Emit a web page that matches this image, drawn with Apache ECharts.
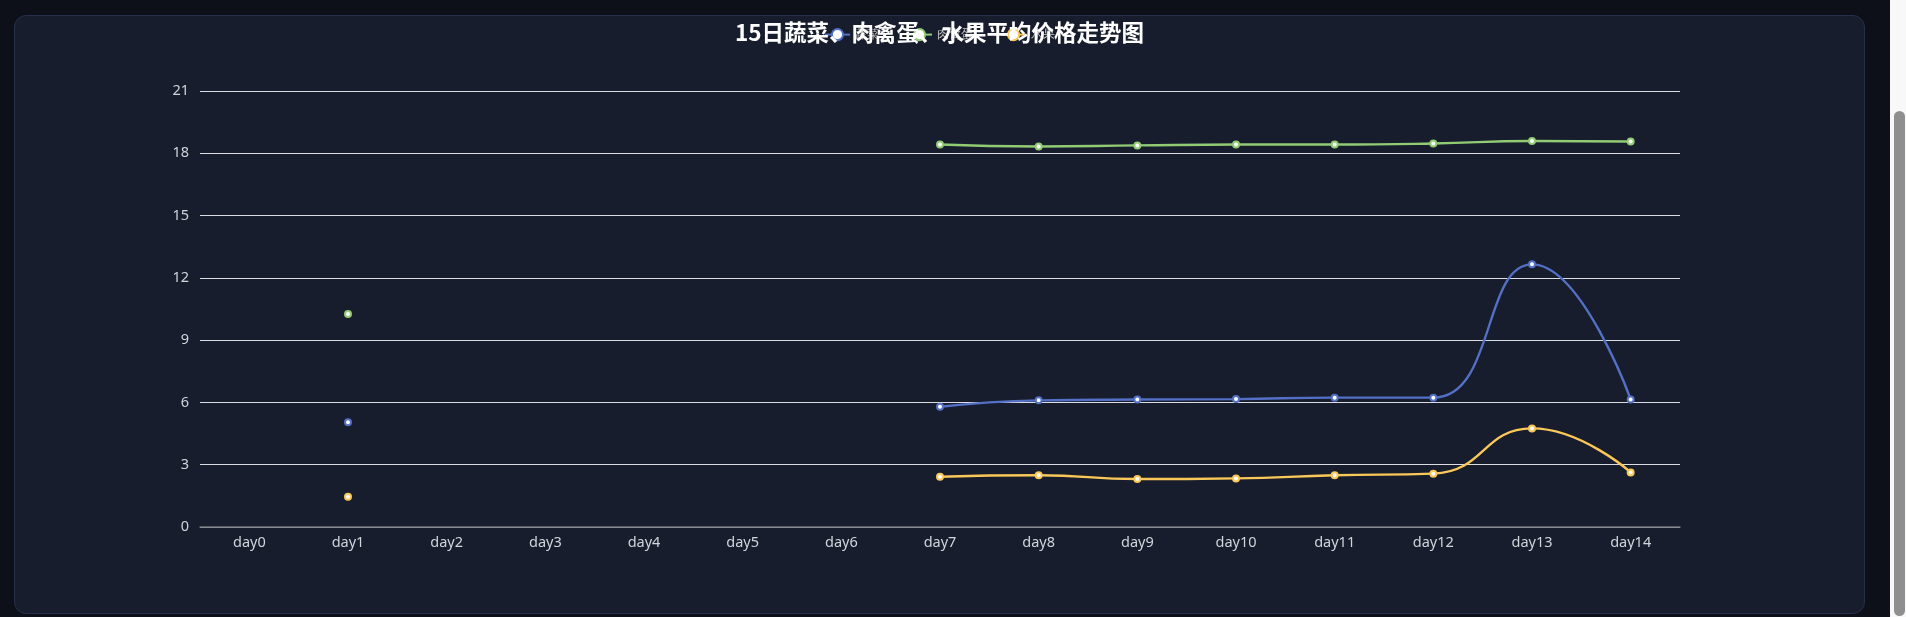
<!DOCTYPE html>
<html>
<head>
<meta charset="utf-8">
<script src="https://cdn.jsdelivr.net/npm/echarts@6/dist/echarts.min.js"></script>
<style>
  html, body { margin: 0; padding: 0; width: 1906px; height: 617px; overflow: hidden; background: #0d1019; }
  #card { position: absolute; left: 14px; top: 15px; width: 1849px; height: 597px; background: #171d2c; border: 1px solid #26304a; border-radius: 12px; }
  #chart { position: absolute; left: 14px; top: 0; width: 1851px; height: 617px; }
  #track { position: absolute; left: 1890px; top: 0; width: 16px; height: 617px; background: #f8f8f8; }
  #thumb { position: absolute; left: 1894px; top: 111px; width: 11px; height: 505px; background: #8f8f8f; border-radius: 6px; }
</style>
</head>
<body>
<div id="card"></div>
<div id="chart"></div>
<div id="track"></div>
<div id="thumb"></div>
<script>
const titleText = '15日蔬菜、肉禽蛋、水果平均价格走势图';
const categories = ['day0','day1','day2','day3','day4','day5','day6','day7','day8','day9','day10','day11','day12','day13','day14'];
const seriesNames = ['蔬菜', '肉禽蛋', '水果'];
const vegetables = [null, 5.04, null, null, null, null, null, 5.79, 6.10, 6.14, 6.16, 6.23, 6.23, 12.65, 6.14];
const meatPoultryEggs = [null, 10.26, null, null, null, null, null, 18.42, 18.33, 18.38, 18.42, 18.42, 18.47, 18.59, 18.57];
const fruits = [null, 1.46, null, null, null, null, null, 2.42, 2.49, 2.31, 2.34, 2.49, 2.57, 4.75, 2.63];
const yMin = 0, yMax = 21, yInterval = 3;

const chart = echarts.init(document.getElementById('chart'), null, { renderer: 'canvas' });
const labelColor = '#d2d5dc';
const labelFont = 'Noto Sans, sans-serif';
const mk = (name, data, color) => ({
  name, type: 'line', data, smooth: true, connectNulls: false,
  symbol: 'emptyCircle', symbolSize: 6,
  itemStyle: { color, borderWidth: 2 }, lineStyle: { width: 2.4, color }
});
chart.setOption({
  animation: false,
  color: ['#5470c6', '#91cc75', '#fac858'],
  title: {
    text: titleText, left: 'center', top: 16,
    textStyle: { color: '#ffffff', fontSize: 22.5, fontWeight: 'bold', fontFamily: 'Noto Sans CJK SC, sans-serif' }
  },
  legend: {
    data: seriesNames, top: 23, left: 'center', itemGap: 27,
    textStyle: { color: '#cccccc', fontSize: 12 }
  },
  grid: { left: 186, right: 185, top: 91, bottom: 90 },
  xAxis: {
    type: 'category', data: categories, boundaryGap: true,
    axisLine: { lineStyle: { color: '#6e7079', width: 1.5 } },
    axisTick: { lineStyle: { color: '#6e7079' } },
    axisLabel: { color: labelColor, fontSize: 14.5, margin: 8, fontFamily: labelFont }
  },
  yAxis: {
    type: 'value', min: yMin, max: yMax, interval: yInterval,
    axisLine: { show: false }, axisTick: { show: false },
    axisLabel: { color: labelColor, fontSize: 14.5, margin: 11, fontFamily: labelFont },
    splitLine: { lineStyle: { color: '#dcdde2', width: 1 } }
  },
  series: [
    mk(seriesNames[0], vegetables, '#5470c6'),
    mk(seriesNames[1], meatPoultryEggs, '#91cc75'),
    mk(seriesNames[2], fruits, '#fac858')
  ]
});
</script>
</body>
</html>
